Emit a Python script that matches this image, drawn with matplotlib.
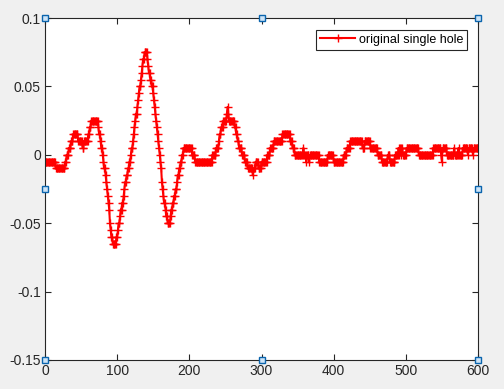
import numpy as np
import matplotlib
matplotlib.use("Agg")
import matplotlib.pyplot as plt

# sample values (one per sample index 0..600)
signal = [
    -0.005, -0.005, -0.005, -0.005, -0.005, -0.005, -0.005, -0.005, -0.005, -0.005, -0.005, -0.005, -0.005, -0.005, -0.005, -0.01, -0.01, -0.01, -0.01, -0.01,
    -0.01, -0.01, -0.01, -0.01, -0.01, -0.01, -0.01, -0.01, -0.005, -0.005, 0.0, 0.0, 0.0, 0.005, 0.005, 0.005, 0.01, 0.01, 0.01, 0.015,
    0.015, 0.015, 0.015, 0.015, 0.015, 0.015, 0.01, 0.01, 0.01, 0.01, 0.01, 0.01, 0.005, 0.005, 0.01, 0.01, 0.01, 0.01, 0.01, 0.01,
    0.015, 0.015, 0.02, 0.02, 0.025, 0.025, 0.025, 0.025, 0.025, 0.025, 0.025, 0.025, 0.025, 0.025, 0.02, 0.015, 0.015, 0.01, 0.005, 0.005,
    0.0, -0.005, -0.01, -0.01, -0.015, -0.02, -0.025, -0.03, -0.035, -0.04, -0.05, -0.055, -0.06, -0.06, -0.065, -0.065, -0.065, -0.065, -0.065, -0.06,
    -0.06, -0.055, -0.05, -0.05, -0.045, -0.04, -0.04, -0.035, -0.035, -0.03, -0.025, -0.02, -0.02, -0.015, -0.015, -0.01, -0.01, -0.005, -0.005, 0.0,
    0.005, 0.005, 0.01, 0.015, 0.02, 0.025, 0.03, 0.03, 0.035, 0.04, 0.045, 0.05, 0.05, 0.055, 0.06, 0.065, 0.07, 0.07, 0.075, 0.075,
    0.075, 0.075, 0.07, 0.065, 0.06, 0.06, 0.055, 0.055, 0.05, 0.05, 0.045, 0.04, 0.035, 0.03, 0.025, 0.02, 0.015, 0.01, 0.005, 0.0,
    -0.005, -0.01, -0.02, -0.025, -0.03, -0.035, -0.035, -0.04, -0.045, -0.045, -0.05, -0.05, -0.05, -0.05, -0.045, -0.04, -0.04, -0.035, -0.035, -0.03,
    -0.03, -0.025, -0.025, -0.02, -0.015, -0.015, -0.01, -0.01, -0.005, -0.005, 0.0, 0.0, 0.005, 0.005, 0.005, 0.005, 0.005, 0.005, 0.005, 0.005,
    0.005, 0.005, 0.005, 0.005, 0.0, 0.0, 0.0, 0.0, -0.005, -0.005, -0.005, -0.005, -0.005, -0.005, -0.005, -0.005, -0.005, -0.005, -0.005, -0.005,
    -0.005, -0.005, -0.005, -0.005, -0.005, -0.005, -0.005, -0.005, -0.005, -0.005, -0.005, -0.005, 0.0, 0.0, 0.0, 0.0, 0.0, 0.005, 0.005, 0.005,
    0.005, 0.01, 0.015, 0.015, 0.02, 0.02, 0.02, 0.025, 0.025, 0.025, 0.025, 0.025, 0.03, 0.035, 0.03, 0.025, 0.025, 0.025, 0.025, 0.025,
    0.025, 0.025, 0.025, 0.02, 0.02, 0.015, 0.015, 0.01, 0.01, 0.005, 0.005, 0.005, 0.005, 0.0, 0.0, 0.0, 0.0, -0.005, -0.005, -0.005,
    -0.005, -0.01, -0.01, -0.01, -0.01, -0.01, -0.01, -0.01, -0.015, -0.01, -0.01, -0.01, -0.005, -0.005, -0.005, -0.005, -0.01, -0.01, -0.01, -0.01,
    -0.005, -0.005, -0.005, -0.005, -0.005, -0.005, -0.005, -0.005, 0.0, 0.0, 0.0, 0.0, 0.005, 0.005, 0.005, 0.005, 0.005, 0.01, 0.01, 0.01,
    0.01, 0.01, 0.01, 0.01, 0.01, 0.01, 0.01, 0.01, 0.01, 0.015, 0.015, 0.015, 0.015, 0.015, 0.015, 0.015, 0.015, 0.015, 0.015, 0.015,
    0.01, 0.01, 0.01, 0.005, 0.005, 0.005, 0.0, 0.0, 0.0, 0.0, 0.0, 0.0, 0.0, 0.0, 0.0, 0.0, 0.0, 0.0, 0.005, 0.0,
    0.0, 0.0, -0.005, 0.0, 0.0, 0.0, -0.005, 0.0, 0.0, 0.0, 0.0, 0.0, 0.0, 0.0, 0.0, 0.0, 0.0, 0.0, 0.0, 0.0,
    -0.005, -0.005, -0.005, -0.005, -0.005, -0.005, -0.005, -0.005, -0.005, -0.005, -0.005, -0.005, 0.0, 0.0, 0.0, 0.0, 0.0, 0.0, 0.0, 0.0,
    -0.005, -0.005, -0.005, -0.005, -0.005, -0.005, -0.005, -0.005, -0.005, -0.005, -0.005, -0.005, -0.005, -0.005, 0.0, 0.0, 0.0, 0.0, 0.005, 0.005,
    0.005, 0.005, 0.005, 0.01, 0.01, 0.01, 0.01, 0.01, 0.01, 0.01, 0.01, 0.01, 0.01, 0.01, 0.01, 0.01, 0.01, 0.01, 0.01, 0.01,
    0.005, 0.005, 0.005, 0.01, 0.01, 0.01, 0.01, 0.01, 0.01, 0.01, 0.01, 0.005, 0.005, 0.005, 0.005, 0.005, 0.005, 0.005, 0.005, 0.005,
    0.005, 0.0, 0.0, 0.0, 0.0, 0.0, 0.0, -0.005, -0.005, -0.005, -0.005, -0.005, -0.005, -0.005, -0.005, 0.0, 0.0, 0.0, -0.005, -0.005,
    -0.005, -0.005, -0.005, -0.005, -0.005, 0.0, 0.0, 0.0, 0.0, 0.0, 0.005, 0.0, 0.005, 0.005, 0.0, 0.005, 0.0, 0.0, 0.0, 0.0,
    0.0, 0.005, 0.005, 0.005, 0.005, 0.005, 0.005, 0.005, 0.005, 0.005, 0.005, 0.005, 0.005, 0.005, 0.005, 0.005, 0.005, 0.005, 0.0, 0.0,
    0.0, 0.0, 0.0, 0.0, 0.0, 0.0, 0.0, 0.0, 0.0, 0.0, 0.0, 0.0, 0.0, 0.0, 0.0, 0.0, 0.0, 0.0, 0.005, 0.005,
    0.005, 0.005, 0.005, 0.005, 0.005, 0.005, 0.005, 0.005, 0.005, 0.0, -0.005, 0.005, 0.005, 0.005, 0.005, 0.005, 0.005, 0.0, 0.0, 0.0,
    0.0, 0.0, 0.0, 0.0, 0.0, 0.0, 0.0, 0.005, 0.0, 0.0, 0.0, 0.0, 0.0, 0.005, 0.0, 0.0, 0.0, 0.0, 0.0, 0.005,
    0.005, 0.005, 0.005, 0.005, 0.005, 0.005, 0.0, 0.005, 0.005, 0.005, 0.005, 0.005, 0.005, 0.0, 0.005, 0.005, 0.005, 0.005, 0.005, 0.005,
    0.005,
]
samples = np.arange(len(signal))
series_name = "original single hole"

xticks = [0, 100, 200, 300, 400, 500, 600]
yticks = [-0.15, -0.1, -0.05, 0, 0.05, 0.1]
ytick_labels = ["-0.15", "-0.1", "-0.05", "0", "0.05", "0.1"]

plt.rcParams["font.family"] = ["Liberation Sans", "DejaVu Sans"]
plt.rcParams["axes.unicode_minus"] = False

fig = plt.figure(figsize=(5.04, 3.89), dpi=100, facecolor="#f0f0f0")
ax = fig.add_axes([0.0893, 0.0746, 0.8591, 0.8791])
ax.set_facecolor("white")

ax.plot(samples, signal, color="#ff0000", linewidth=1.5, marker="+",
        markersize=6, markeredgewidth=1.0, label=series_name)

ax.set_xlim(0, 600)
ax.set_ylim(-0.15, 0.1)
ax.set_xticks(xticks)
ax.set_yticks(yticks)
ax.set_yticklabels(ytick_labels)
ax.tick_params(direction="in", length=4, width=0.8, colors="#262626",
               labelsize=10, top=True, right=True, pad=3)
for sp in ax.spines.values():
    sp.set_color("#262626")
    sp.set_linewidth(0.8)

leg = ax.legend(loc="upper right", bbox_to_anchor=(0.9746, 0.9649),
                borderaxespad=0, fontsize=9, numpoints=1, handlelength=2.8,
                fancybox=False, framealpha=1, edgecolor="#262626",
                borderpad=0.3, handletextpad=0.3)
leg.get_frame().set_linewidth(0.8)

# selection handles drawn by the figure editor
hx = [0, 0.5, 1, 0, 1, 0, 0.5, 1]
hy = [1, 1, 1, 0.5, 0.5, 0, 0, 0]
ax.plot(hx, hy, linestyle="none", marker="s", markersize=5,
        markerfacecolor="#cde4f7", markeredgecolor="#0a64ad",
        markeredgewidth=1.0, transform=ax.transAxes, clip_on=False, zorder=10)

fig.savefig("out.png", dpi=100, facecolor=fig.get_facecolor())
